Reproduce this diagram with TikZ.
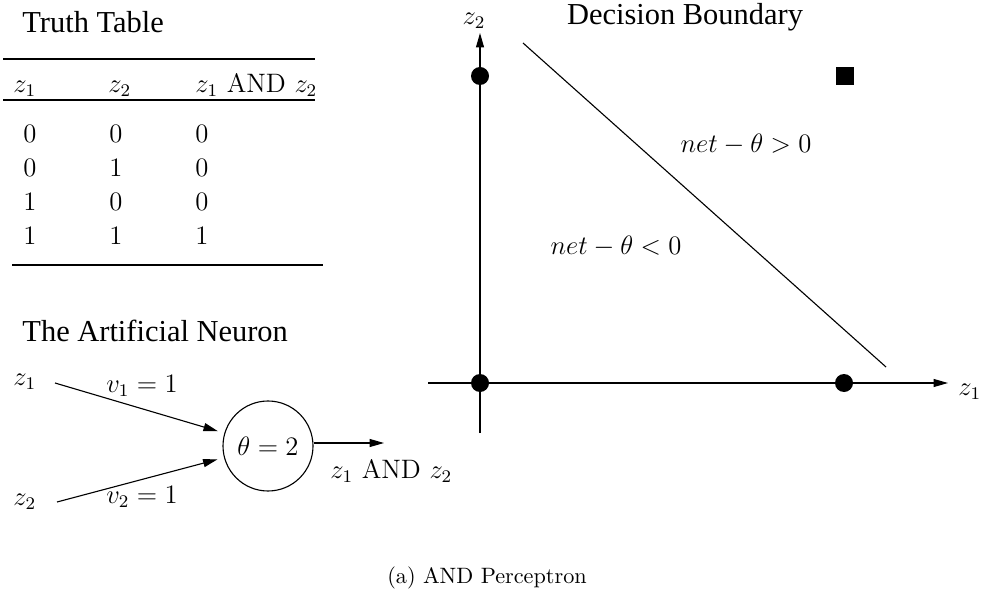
\documentclass[tikz,border=0pt]{standalone}
\usepackage{fontspec}
\newfontfamily\titlefont{Liberation Serif}
\usetikzlibrary{arrows.meta}

\begin{document}
\begin{tikzpicture}[x=0.45pt,y=-0.45pt,font=\fontsize{12}{14}\selectfont,
  arr/.style={-{Triangle[length=6.5pt,width=3.6pt]},line width=0.5pt},
  heading/.style={font=\fontsize{13.7}{16}\selectfont\titlefont,anchor=base west,inner sep=0pt},
  cell/.style={anchor=base west,inner sep=0pt},
  dot/.style={circle,fill=black,inner sep=0pt,minimum size=8.1pt},
  box/.style={fill=black,inner sep=0pt,minimum size=8.1pt}]
\useasboundingbox (0,0) rectangle (983,592);
% truth table
\node[heading] (ttitle) at (22,33) {Truth Table};
\draw[line width=0.7pt] (3,59) -- (315,59);
\node[cell] (h1) at (13,93) {$z_1$};
\node[cell] (h2) at (108,93) {$z_2$};
\node[cell] (h3) at (195,93) {$z_1$ AND $z_2$};
\draw[line width=0.5pt] (3,100) -- (315,100);
\foreach \a/\b/\c [count=\i from 0] in {0/0/0,0/1/0,1/0/0,1/1/1} {
  \node[cell] (r\i a) at (23,143+34*\i) {\a};
  \node[cell] (r\i b) at (109,143+34*\i) {\b};
  \node[cell] (r\i c) at (195,143+34*\i) {\c};
}
\draw[line width=0.7pt] (12,265) -- (323,265);
% neuron
\node[heading] (ntitle) at (22,341) {The Artificial Neuron};
\node[circle,draw,line width=0.5pt,minimum size=40.5pt,inner sep=0pt] (neuron) at (268,446) {$\theta=2$};
\node[cell] (x1) at (13,385) {$z_1$};
\node[cell] (x2) at (13,505) {$z_2$};
\coordinate (in1) at (55,383);
\coordinate (in2) at (57,502);
\coordinate (out) at (384,443);
\draw[arr,shorten >=3pt] (in1) -- (neuron);
\draw[arr,shorten >=3pt] (in2) -- (neuron);
\draw[arr] (neuron.east |- out) -- (out);
\node[cell,anchor=base] (w1) at (142,392) {$v_1=1$};
\node[cell,anchor=base] (w2) at (142,503) {$v_2=1$};
\node[cell] (y) at (330,478) {$z_1$ AND $z_2$};
% decision boundary
\node[heading,anchor=base] (dtitle) at (685,25) {Decision Boundary};
\coordinate (ybot) at (480,433);
\coordinate (ytop) at (480,33);
\coordinate (xleft) at (428,383);
\coordinate (xright) at (948,383);
\draw[arr] (ybot) -- (ytop);
\draw[arr] (xleft) -- (xright);
\node[cell,anchor=base] (lz2) at (474,25) {$z_2$};
\node[cell] (lz1) at (958,395) {$z_1$};
\node[dot] (p00) at (480,383) {};
\node[dot] (p01) at (480,76) {};
\node[dot] (p10) at (844,383) {};
\node[box] (p11) at (845,76) {};
\coordinate (b1) at (523,43);
\coordinate (b2) at (886,367);
\draw[line width=0.5pt] (b1) -- (b2);
\node[cell,anchor=base] (pos) at (746,153) {$net-\theta>0$};
\node[cell,anchor=base] (neg) at (616,255) {$net-\theta<0$};
\node[anchor=base,inner sep=0pt,font=\fontsize{10}{12}\selectfont] (cap) at (487,583) {(a) AND Perceptron};
\end{tikzpicture}
\end{document}
